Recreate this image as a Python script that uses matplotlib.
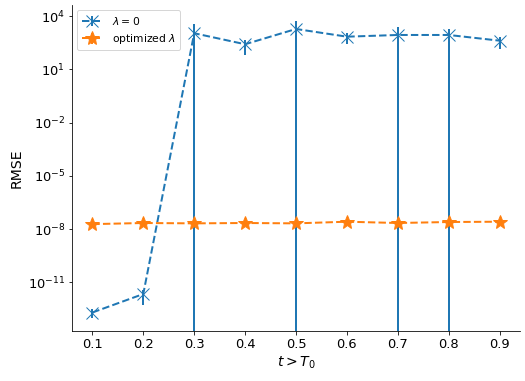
import numpy as np
import matplotlib.pyplot as plt

t = [0.1, 0.2, 0.3, 0.4, 0.5, 0.6, 0.7, 0.8, 0.9]

rmse_zero = [2.0e-13, 2.2e-12, 1070, 257, 1860, 685, 855, 855, 408]
err_zero = [1.0e-13, 1.7e-12, 2500, 190, 3400, 410, 1450, 950, 265]

rmse_opt = [1.9e-8, 2.2e-8, 2.1e-8, 2.2e-8, 2.1e-8, 2.6e-8, 2.2e-8, 2.5e-8, 2.6e-8]
err_opt = [1e-9, 1e-9, 1e-9, 1e-9, 1e-9, 1e-9, 1e-9, 1e-9, 1e-9]

fig = plt.figure(figsize=(525 / 72, 381 / 72), dpi=72)
ax = fig.add_axes([72 / 525, 50 / 381, 448 / 525, 326 / 381])

ax.errorbar(t, rmse_zero, yerr=err_zero, ls='--', lw=2, marker='x', ms=12,
            elinewidth=2, color='C0', label=r'$\lambda=0$')
ax.errorbar(t, rmse_opt, yerr=err_opt, ls='--', lw=2, marker='*', ms=14,
            elinewidth=2, color='C1', label=r'optimized $\lambda$')

ax.set_yscale('log')
ax.set_ylim(10 ** -13.74, 10 ** 4.62)
ax.set_xlim(0.06, 0.94)
ax.set_yticks([1e4, 1e1, 1e-2, 1e-5, 1e-8, 1e-11])
ax.minorticks_off()
ax.set_xticks(t)
ax.tick_params(labelsize=13)
ax.set_xlabel(r'$t > T_0$', fontsize=14)
ax.set_ylabel('RMSE', fontsize=14)
ax.spines['top'].set_visible(False)
ax.spines['right'].set_visible(False)
ax.legend(loc='upper left', fontsize=10.7)

fig.savefig('out.png', dpi=72)
